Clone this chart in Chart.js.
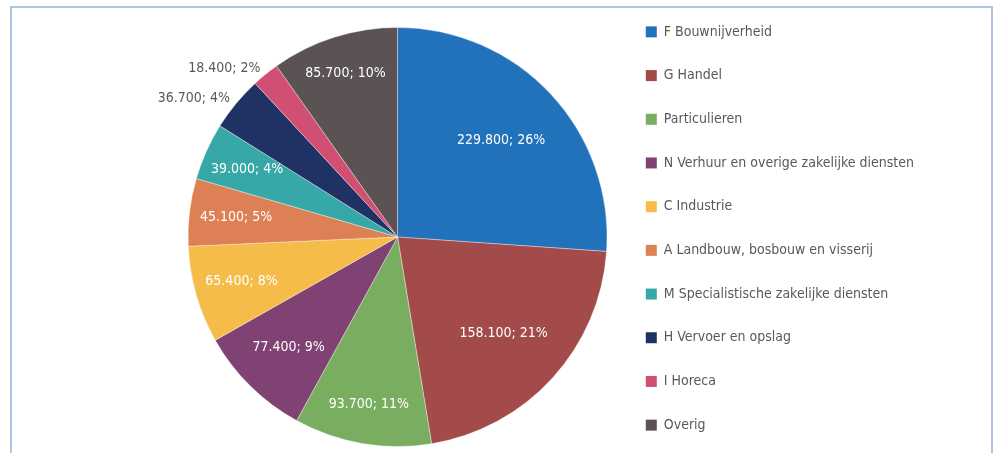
<!DOCTYPE html>
<html>
<head>
<meta charset="utf-8">
<script src="https://cdn.jsdelivr.net/npm/chart.js@4.4.1/dist/chart.umd.min.js"></script>
<style>
  html, body { margin:0; padding:0; background:#fff; overflow:hidden; }
  #frame { position:absolute; left:10px; top:6px; width:983px; height:520px; border:2px solid #adc2e5; box-sizing:border-box; }
  #wrap { position:absolute; left:0; top:0; width:994px; height:470px; }
</style>
</head>
<body>
<div id="frame"></div>
<div id="wrap"><canvas id="pie"></canvas></div>
<script>
// sectors (legend order = slice order, clockwise from 12 o'clock)
const sectors = [
  'F Bouwnijverheid',
  'G Handel',
  'Particulieren',
  'N Verhuur en overige zakelijke diensten',
  'C Industrie',
  'A Landbouw, bosbouw en visserij',
  'M Specialistische zakelijke diensten',
  'H Vervoer en opslag',
  'I Horeca',
  'Overig'
];
// amounts printed in the labels
const amounts = [229800, 158100, 93700, 77400, 65400, 45100, 39000, 36700, 18400, 85700];
// share of the pie (%)
const shares = [26.1, 21.3, 10.6, 8.8, 7.5, 5.2, 4.4, 4.2, 2.1, 9.8];
const colors = ['#2171bb','#a34a4a','#79ad60','#7f4272','#f6bc4a','#de8055','#37a8a8','#1f3263','#d24f74','#5a5253'];

const FONT = '"DejaVu Sans Condensed", "Liberation Sans Narrow", sans-serif';

function fmt(n){
  return String(n).replace(/\B(?=(\d{3})+(?!\d))/g, '.');
}

// label placement per slice: fraction of radius (inside) or 'out'
const labelPos = [0.676, 0.685, 0.81, 0.74, 0.775, 0.776, 0.787, 'out', 'out', 0.82];

const sliceLabels = {
  id: 'sliceLabels',
  afterDatasetsDraw(chart){
    const ctx = chart.ctx;
    const meta = chart.getDatasetMeta(0);
    ctx.save();
    ctx.font = '14px ' + FONT;
    ctx.textBaseline = 'middle';
    meta.data.forEach((arc, i) => {
      const p = arc.getProps(['x','y','startAngle','endAngle','outerRadius'], true);
      const mid = (p.startAngle + p.endAngle) / 2;
      const text = fmt(amounts[i]) + '; ' + Math.round(shares[i]) + '%';
      if(labelPos[i] === 'out'){
        const r = p.outerRadius + 8;
        ctx.fillStyle = '#595959';
        ctx.textAlign = 'right';
        ctx.fillText(text, p.x + Math.cos(mid)*r, p.y + Math.sin(mid)*r);
      } else {
        const r = p.outerRadius * labelPos[i];
        ctx.fillStyle = '#ffffff';
        ctx.textAlign = 'center';
        ctx.fillText(text, p.x + Math.cos(mid)*r, p.y + Math.sin(mid)*r);
      }
    });
    ctx.restore();
  }
};

new Chart(document.getElementById('pie'), {
  type: 'pie',
  data: {
    labels: sectors,
    datasets: [{
      data: shares,
      backgroundColor: colors,
      borderColor: 'rgba(255,255,255,0.6)',
      borderWidth: 0.6,
      radius: 209.5
    }]
  },
  options: {
    responsive: true,
    maintainAspectRatio: false,
    animation: false,
    layout: { padding: { left: 162, right: 70, top: 10, bottom: 6 } },
    plugins: {
      tooltip: { enabled: false },
      legend: {
        position: 'right',
        align: 'center',
        labels: {
          boxWidth: 11,
          boxHeight: 11,
          padding: 12.7,
          color: '#595959',
          font: { family: FONT, size: 14, lineHeight: 2.214 },
          generateLabels(chart){
            const items = Chart.overrides.pie.plugins.legend.labels.generateLabels(chart);
            // one-line arrays so the row height follows lineHeight
            return items.map(it => Object.assign(it, { text: [it.text], lineWidth: 0 }));
          }
        }
      }
    }
  },
  plugins: [sliceLabels]
});
</script>
</body>
</html>
